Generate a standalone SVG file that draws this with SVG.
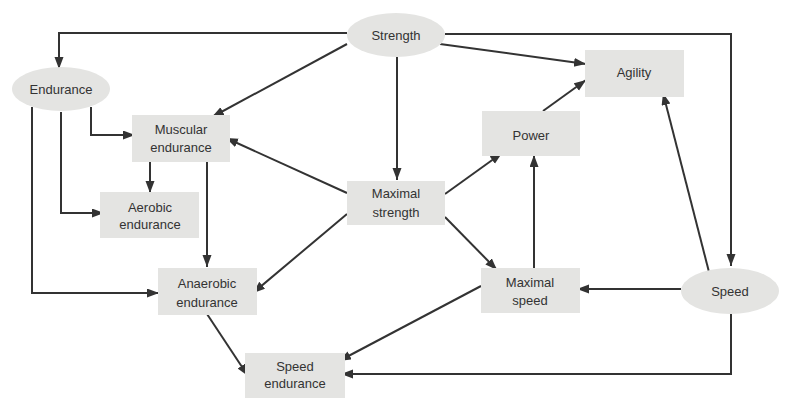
<svg xmlns="http://www.w3.org/2000/svg" width="791" height="415" viewBox="0 0 791 415">
<style>
.n{fill:#e4e4e2;stroke:none}
.t{font-family:"Liberation Sans",Arial,sans-serif;font-size:13px;fill:#333;text-anchor:middle}
.c{fill:none;stroke:#333;stroke-width:2;marker-end:url(#a)}
</style>
<defs>
<marker id="a" markerUnits="userSpaceOnUse" markerWidth="13" markerHeight="10" refX="12" refY="4.5" orient="auto">
<path d="M0,0 L12,4.5 L0,9 z" fill="#333"/>
</marker>
</defs>
<rect width="791" height="415" fill="#fff"/>
<g id="connectors">
<path class="c" d="M347,33 H59 V69"/>
<path class="c" d="M347,44 L212,117"/>
<path class="c" d="M397,57 V180"/>
<path class="c" d="M440,44 L586,64"/>
<path class="c" d="M445,34 H731 V266"/>
<path class="c" d="M91,107 V135 H135"/>
<path class="c" d="M61,112 V213 H104"/>
<path class="c" d="M32,107 V293 H159"/>
<path class="c" d="M150,162 V193"/>
<path class="c" d="M207,162 V267"/>
<path class="c" d="M347,193 L226,138"/>
<path class="c" d="M347,214 L253,293"/>
<path class="c" d="M445,194 L502,153"/>
<path class="c" d="M445,217 L497,270"/>
<path class="c" d="M534,268 V155"/>
<path class="c" d="M543,111 L586,80"/>
<path class="c" d="M709,272 L663,93"/>
<path class="c" d="M681,289 H577"/>
<path class="c" d="M481,286 L339,361"/>
<path class="c" d="M207,314 L248,376"/>
<path class="c" d="M731,314 V374 H341"/>
</g>
<g id="strength"><ellipse class="n" cx="396" cy="35" rx="49" ry="22"/><text class="t" x="396" y="40">Strength</text></g>
<g id="endurance"><ellipse class="n" cx="61" cy="89" rx="49" ry="22"/><text class="t" x="61" y="94">Endurance</text></g>
<g id="speed"><ellipse class="n" cx="730" cy="291" rx="49" ry="23"/><text class="t" x="730" y="296">Speed</text></g>
<g id="muscular-endurance"><rect class="n" x="132" y="115" width="98" height="47"/><text class="t" x="181" y="134">Muscular</text><text class="t" x="181" y="152">endurance</text></g>
<g id="aerobic-endurance"><rect class="n" x="100" y="192" width="99" height="46"/><text class="t" x="150" y="212">Aerobic</text><text class="t" x="150" y="229">endurance</text></g>
<g id="anaerobic-endurance"><rect class="n" x="158" y="268" width="99" height="47"/><text class="t" x="207" y="288">Anaerobic</text><text class="t" x="207" y="307">endurance</text></g>
<g id="speed-endurance"><rect class="n" x="245" y="353" width="100" height="45"/><text class="t" x="295" y="371">Speed</text><text class="t" x="295" y="388">endurance</text></g>
<g id="maximal-strength"><rect class="n" x="347" y="181" width="98" height="44"/><text class="t" x="396" y="198">Maximal</text><text class="t" x="396" y="217">strength</text></g>
<g id="power"><rect class="n" x="482" y="111" width="98" height="45"/><text class="t" x="531" y="140">Power</text></g>
<g id="agility"><rect class="n" x="585" y="50" width="99" height="47"/><text class="t" x="634" y="77">Agility</text></g>
<g id="maximal-speed"><rect class="n" x="481" y="268" width="99" height="45"/><text class="t" x="530" y="287">Maximal</text><text class="t" x="530" y="305">speed</text></g>
</svg>
